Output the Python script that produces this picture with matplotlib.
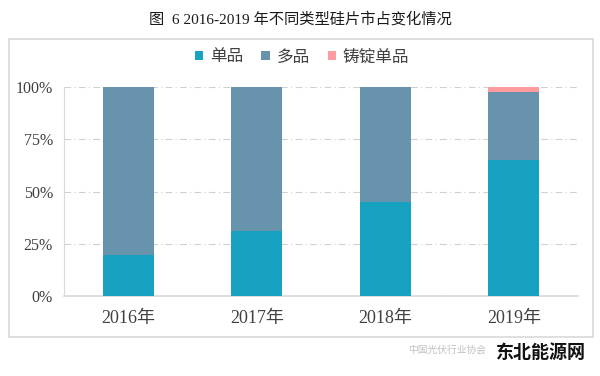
import matplotlib
matplotlib.use("Agg")
import matplotlib.pyplot as plt
from matplotlib.patches import Rectangle
from matplotlib.ticker import PercentFormatter

plt.rcParams['font.family'] = ['Liberation Serif', 'Noto Sans CJK SC', 'DejaVu Sans']

categories = ['2016年', '2017年', '2018年', '2019年']
mono = [19.6, 31, 45, 65]
multi = [80.4, 69, 55, 32.6]
cast_mono = [0, 0, 0, 2.4]
series_names = ['单品', '多品', '铸锭单品']
colors = ['#17a2c2', '#6893ad', '#ff9a9e']
yticks = [0, 25, 50, 75, 100]
title = '图  6 2016-2019 年不同类型硅片市占变化情况'

W, H = 600, 376
fig = plt.figure(figsize=(6, 3.76), dpi=100)
fig.patches.append(Rectangle((9/W, 1-337/H), 584/W, 298/H, transform=fig.transFigure,
                             fill=False, edgecolor='#d9d9d9', linewidth=1.2))
fig.text(0.5, 1-19/H, title, ha='center', va='center', fontsize=11,
         family=['Liberation Serif', 'Noto Sans CJK SC'], color='#1a1a1a')

ax = fig.add_axes([64/W, 1-296/H, 514/W, 209/H])
x = range(len(categories))
bottoms = [0]*len(categories)
handles = []
for vals, name, c in zip([mono, multi, cast_mono], series_names, colors):
    b = ax.bar(x, vals, 0.4, bottom=bottoms, color=c, label=name, zorder=3)
    handles.append(b)
    bottoms = [p + v for p, v in zip(bottoms, vals)]

ax.set_xlim(-0.5, 3.5)
ax.set_ylim(0, 100)
ax.set_yticks(yticks)
ax.yaxis.set_major_formatter(PercentFormatter(decimals=0))
ax.set_xticks(list(x))
ax.set_xticklabels(categories)
ax.tick_params(axis='x', length=0, pad=10, labelsize=13, labelcolor='#404040')
ax.tick_params(axis='y', length=0, pad=8, labelsize=11.5, labelcolor='#404040')
ax.grid(axis='y', color='#d0d0d0', linestyle=(0, (6, 3, 1, 3)), linewidth=0.8, zorder=0)
for s in ['top', 'right']:
    ax.spines[s].set_visible(False)
ax.spines['left'].set_color('#d9d9d9')
ax.spines['bottom'].set_color('#d9d9d9')
ax.spines['bottom'].set_linewidth(1.2)

fig.legend(handles=handles, labels=series_names, loc='center', bbox_to_anchor=(302/W, 1-57/H),
           ncol=3, frameon=False, handlelength=0.5, handleheight=0.5,
           handletextpad=0.4, columnspacing=1.1, labelcolor='#404040',
           prop={'family': ['Noto Sans CJK SC'], 'size': 12})

# watermark
fig.text(486/W, 1-350/H, '中国光伏行业协会', ha='right', va='center', fontsize=7,
         family=['Noto Sans CJK SC'], color='#c0c0c0')
fig.text(541/W, 1-352/H, '东北能源网', ha='center', va='center', fontsize=13,
         family=['Noto Sans CJK SC'], fontweight='bold', color='#111111')

fig.savefig('out.png', dpi=100)
